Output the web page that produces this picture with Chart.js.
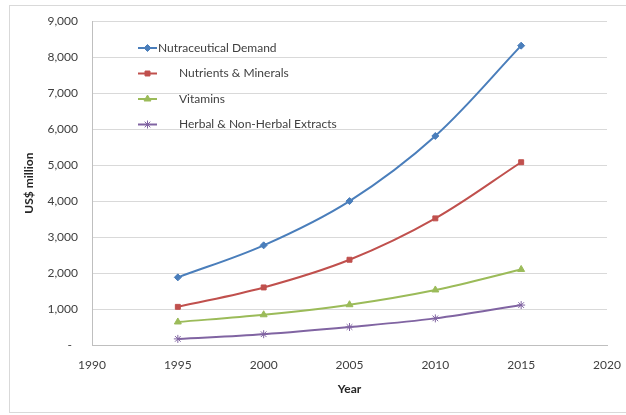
<!DOCTYPE html>
<html>
<head>
<meta charset="utf-8">
<script src="https://cdn.jsdelivr.net/npm/chart.js@4.4.1/dist/chart.umd.min.js"></script>
<style>
  html, body { margin: 0; padding: 0; background: #ffffff; }
  #wrap { width: 626px; height: 415px; position: relative; }
</style>
</head>
<body>
<div id="wrap"><canvas id="c" width="626" height="415"></canvas></div>
<script>
// Market size by segment, US$ million
const years = [1995, 2000, 2005, 2010, 2015];
const nutraceuticalDemand = [1880, 2770, 4000, 5810, 8320];
const nutrientsMinerals = [1060, 1600, 2370, 3520, 5080];
const vitamins = [640, 840, 1120, 1530, 2100];
const herbalExtracts = [170, 300, 500, 740, 1110];

const seriesNames = ['Nutraceutical Demand', 'Nutrients & Minerals', 'Vitamins', 'Herbal & Non-Herbal Extracts'];
const seriesValues = [nutraceuticalDemand, nutrientsMinerals, vitamins, herbalExtracts];
const seriesColors = ['#4A7EBB', '#C0504D', '#9BBB59', '#8064A2'];
const seriesPoints = ['rectRot', 'rect', 'triangle', 'star'];
const seriesRadius = [3.5, 3.5, 4, 4];

const xTicks = { min: 1990, max: 2020, step: 5 };
const yTicks = { min: 0, max: 9000, step: 1000 };

const FONT = 'Lato, "Open Sans", sans-serif';

const datasets = seriesNames.map((name, i) => ({
  label: name,
  data: years.map((yr, j) => ({ x: yr, y: seriesValues[i][j] })),
  borderColor: seriesColors[i],
  backgroundColor: seriesColors[i],
  pointBackgroundColor: seriesColors[i],
  pointBorderColor: seriesColors[i],
  pointStyle: seriesPoints[i],
  pointRadius: seriesRadius[i],
  pointBorderWidth: 1,
  borderWidth: 2,
  tension: 0.35,
  fill: false
}));

// Outer frame around the whole chart
const framePlugin = {
  id: 'frame',
  beforeDraw(chart) {
    const ctx = chart.ctx;
    ctx.save();
    ctx.fillStyle = '#ffffff';
    ctx.fillRect(0, 0, chart.width, chart.height);
    ctx.strokeStyle = '#d9d9d9';
    ctx.lineWidth = 1;
    ctx.strokeRect(9.5, 5.5, 700, 407);
    ctx.restore();
  }
};

// Legend drawn inside the plot area, top-left
const insideLegend = {
  id: 'insideLegend',
  afterDatasetsDraw(chart) {
    const ctx = chart.ctx;
    const rows = [48, 73.5, 99, 124.5];
    const textX = [158, 179, 179, 179];
    ctx.save();
    chart.data.datasets.forEach((ds, i) => {
      const y = rows[i];
      ctx.strokeStyle = ds.borderColor;
      ctx.lineWidth = 2;
      ctx.beginPath();
      ctx.moveTo(138, y);
      ctx.lineTo(157, y);
      ctx.stroke();
      if (Chart.helpers && Chart.helpers.drawPoint) {
        ctx.fillStyle = ds.borderColor;
        ctx.lineWidth = 1;
        Chart.helpers.drawPoint(ctx, {
          pointStyle: ds.pointStyle,
          radius: ds.pointRadius,
          rotation: 0,
          borderWidth: 1
        }, 147.5, y);
      }
      ctx.fillStyle = '#404040';
      ctx.font = '12px ' + FONT;
      ctx.textBaseline = 'middle';
      ctx.textAlign = 'left';
      ctx.fillText(ds.label, textX[i], y);
    });
    ctx.restore();
  }
};

new Chart(document.getElementById('c'), {
  type: 'line',
  data: { datasets },
  options: {
    responsive: false,
    animation: false,
    layout: { padding: { left: 16, right: 19, top: 20, bottom: 0 } },
    plugins: {
      legend: { display: false },
      tooltip: { enabled: false }
    },
    scales: {
      x: {
        type: 'linear',
        min: xTicks.min,
        max: xTicks.max,
        afterBuildTicks(scale) {
          const t = [];
          for (let v = xTicks.min; v <= xTicks.max; v += xTicks.step) t.push({ value: v });
          scale.ticks = t;
        },
        afterFit(scale) {
          scale.height = 70;
          scale.paddingLeft = 0;
          scale.paddingRight = 0;
        },
        grid: { display: false, drawTicks: false },
        border: { display: true, color: '#bfbfbf', width: 1 },
        ticks: {
          padding: 13,
          color: '#404040',
          font: { family: FONT, size: 12 },
          maxRotation: 0,
          callback: v => String(v)
        },
        title: {
          display: true,
          text: 'Year',
          color: '#262626',
          font: { family: FONT, size: 12, weight: 'bold' },
          padding: { top: 0, bottom: 19 }
        }
      },
      y: {
        min: yTicks.min,
        max: yTicks.max,
        afterBuildTicks(scale) {
          const t = [];
          for (let v = yTicks.min; v <= yTicks.max; v += yTicks.step) t.push({ value: v });
          scale.ticks = t;
        },
        afterFit(scale) { scale.width = 76; },
        grid: { color: '#d9d9d9', lineWidth: 1, drawTicks: false },
        border: { display: true, color: '#bfbfbf', width: 1 },
        ticks: {
          padding: 14,
          color: '#404040',
          font: { family: FONT, size: 12 },
          callback: v => v === 0 ? '-  ' : v.toLocaleString('en-US')
        },
        title: {
          display: true,
          text: 'US$ million',
          color: '#262626',
          font: { family: FONT, size: 12, weight: 'bold' },
          padding: { top: 6, bottom: 0 }
        }
      }
    }
  },
  plugins: [framePlugin, insideLegend]
});
</script>
</body>
</html>
